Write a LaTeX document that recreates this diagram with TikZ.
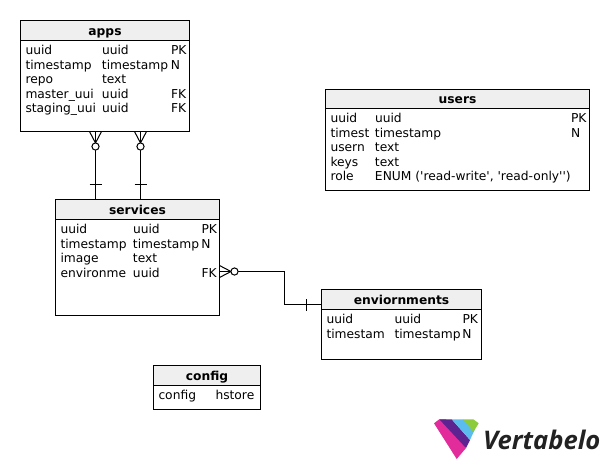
\documentclass[tikz,border=0pt]{standalone}
\usepackage{fontspec}
\setmainfont{DejaVu Sans}
\newfontfamily\logofont{Open Sans}
\usetikzlibrary{positioning}
\newdimen\px
\px=0.75pt
\definecolor{headgray}{HTML}{EFEFEF}
\definecolor{logopink}{HTML}{E32C9C}
\definecolor{logopurple}{HTML}{5C2391}
\definecolor{logoblue}{HTML}{5BBDEE}
\definecolor{logogreen}{HTML}{8CCB3C}
\definecolor{logotext}{HTML}{222222}
\tikzset{
diagram/.style={
    x=0.75pt,
    y=-0.75pt,
    line width=0.75pt,
    font=\fontsize{9.2}{10.9}\selectfont,
    inner sep=0pt,
    outer sep=0pt
},
tablehead/.style={
    draw,
    anchor=north west,
    fill=headgray,
    font=\fontsize{9.2}{10.9}\selectfont\bfseries,
    text height=7pt,
    text depth=0pt,
    minimum height=20\px
},
tablebody/.style={
    draw
},
tablerows/.style={
    below right=4\px and 5\px of #1.north west
},
rel/.style={
    -
},
many/.pic={
    \draw (0,-6) -- (11.5,0) -- (0,6);
    \draw (0,0) -- (11.5,0);
    \draw[fill=white] (15,0) circle[radius=3.6];
},
one/.pic={
    \draw (15,-6) -- (15,6);
}}

\begin{document}
\begin{tikzpicture}[diagram]
\useasboundingbox (0,0) rectangle (609,469);

\node    (appshead)  [tablehead, minimum width=169\px] at (20.5,20.5)  {apps};
\node    (appsbody)  [tablebody, minimum width=169\px, minimum height=91\px, below=0pt of appshead] {};
\node    (appsrows)  [tablerows=appsbody]
  {\begin{tabular}{@{}p{76.5\px}@{}p{69\px}@{}l@{}}
   uuid & uuid & PK\\ timestamp & timestamp & N\\ repo & text & \\ master\_uui & uuid & FK\\ staging\_uui & uuid & FK
   \end{tabular}};

\node    (servhead)  [tablehead, minimum width=164\px] at (55.5,199.5) {services};
\node    (servbody)  [tablebody, minimum width=164\px, minimum height=96\px, below=0pt of servhead] {};
\node    (servrows)  [tablerows=servbody]
  {\begin{tabular}{@{}p{72.5\px}@{}p{68.5\px}@{}l@{}}
   uuid & uuid & PK\\ timestamp & timestamp & N\\ image & text & \\ environme & uuid & FK
   \end{tabular}};

\node    (envhead)   [tablehead, minimum width=160\px] at (321.5,289.5) {enviornments};
\node    (envbody)   [tablebody, minimum width=160\px, minimum height=50\px, below=0pt of envhead] {};
\node    (envrows)   [tablerows=envbody]
  {\begin{tabular}{@{}p{68\px}@{}p{68\px}@{}l@{}}
   uuid & uuid & PK\\ timestam & timestamp & N
   \end{tabular}};

\node    (usershead) [tablehead, minimum width=264\px, minimum height=19\px] at (325.5,89.5) {users};
\node    (usersbody) [tablebody, minimum width=264\px, minimum height=82\px, below=0pt of usershead] {};
\node    (usersrows) [tablerows=usersbody]
  {\begin{tabular}{@{}p{44.5\px}@{}p{196\px}@{}l@{}}
   uuid & uuid & PK\\ timest & timestamp & N\\ usern & text & \\ keys & text & \\
   role & ENUM (\textquotesingle read-write\textquotesingle, \textquotesingle read-only\textquotesingle\textquotesingle) &
   \end{tabular}};

\node    (confhead)  [tablehead, minimum width=107\px] at (153.5,365.5) {config};
\node    (confbody)  [tablebody, minimum width=107\px, minimum height=24\px, below=0pt of confhead] {};
\node    (confrows)  [tablerows=confbody]
  {\begin{tabular}{@{}p{57\px}@{}l@{}}
   config & hstore
   \end{tabular}};

\coordinate (rel1a) at (95.5,131.5);
\coordinate (rel1b) at (95.5,199.5);
\coordinate (rel2a) at (140.5,131.5);
\coordinate (rel2b) at (140.5,199.5);
\coordinate (rel3a) at (219.5,271.5);
\coordinate (rel3m) at (284.5,271.5);
\coordinate (rel3n) at (284.5,304.5);
\coordinate (rel3b) at (321.5,304.5);

\path    (rel1a)  edge[rel]  (rel1b);
\path    (rel2a)  edge[rel]  (rel2b);
\draw[rel] (rel3a) -- (rel3m) -- (rel3n) -- (rel3b);

\pic[rotate=-90] at (rel1a) {many};
\pic[rotate=-90] at (rel2a) {many};
\pic at (rel3a) {many};
\pic[rotate=90]  at (rel1b) {one};
\pic[rotate=90]  at (rel2b) {one};
\pic[rotate=180] at (rel3b) {one};

% logo
\fill[logopink]   (434,423.3) -- (439.3,419.3) -- (446,419.3) -- (466,448) -- (456.7,459) -- cycle;
\fill[logopurple] (439.3,419.3) -- (451.7,419.3) -- (470,440) -- (466,448) -- cycle;
\fill[logoblue]   (451.7,419.3) -- (463.3,419.3) -- (475,429) -- (470,440) -- cycle;
\fill[logogreen]  (463.3,419.3) -- (473.3,419.3) -- (478.7,423.3) -- (473.3,432) -- cycle;
\node    (logo)  [anchor=base west, text=logotext, font=\fontsize{19.2}{20}\logofont\bfseries\itshape] at (483,449) {Vertabelo};
\end{tikzpicture}
\end{document}
